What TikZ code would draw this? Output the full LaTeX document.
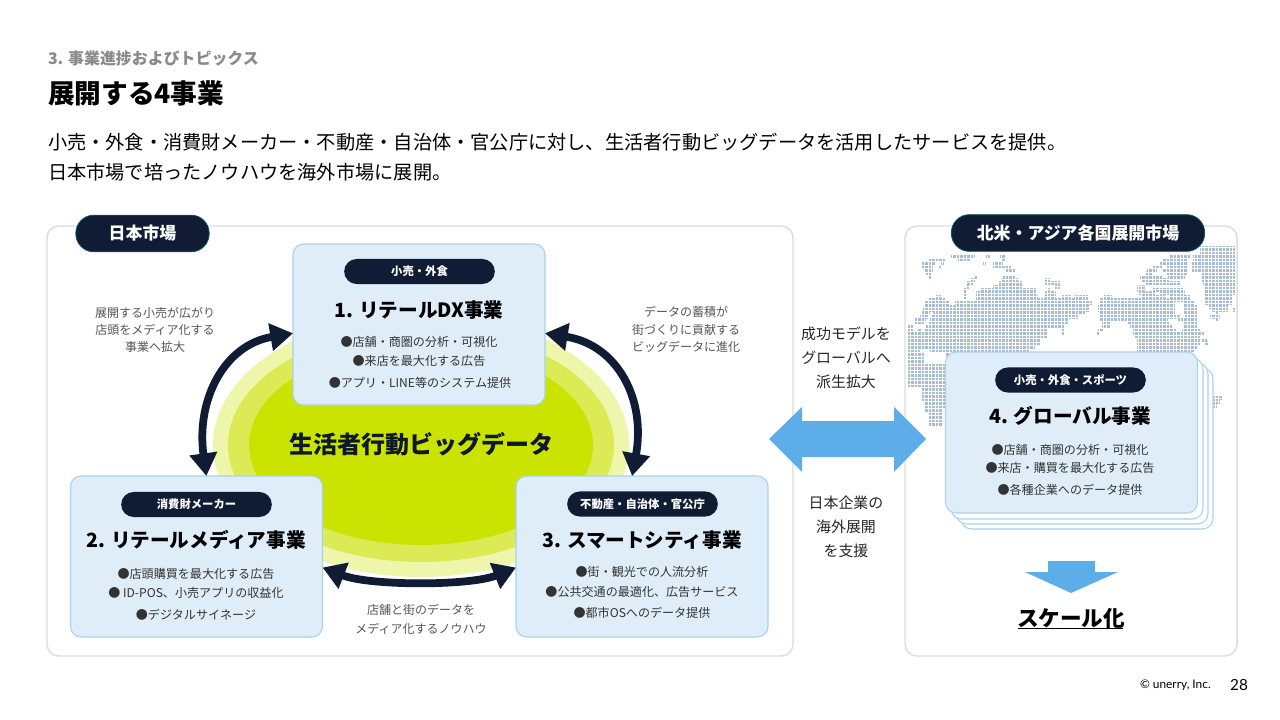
\documentclass[tikz,border=0pt]{standalone}
\usepackage{fontspec}
\setmainfont{Noto Sans CJK JP}
\newfontfamily\latinf{Lato}
\usetikzlibrary{arrows.meta}
\definecolor{navy}{HTML}{0F1C33}
\definecolor{cardfill}{HTML}{DEEDF8}
\definecolor{cardline}{HTML}{A9D2EC}
\definecolor{panelline}{HTML}{DDDDDD}
\definecolor{arrowblue}{HTML}{5DADE8}
\definecolor{mapdot}{HTML}{A6BCD1}
\definecolor{bodytx}{HTML}{333333}
\definecolor{sidetx}{HTML}{555555}
\definecolor{greytx}{HTML}{8A8A8A}
\definecolor{ringa}{HTML}{EEF6AC}
\definecolor{ringb}{HTML}{DCEB55}
\definecolor{ringc}{HTML}{CBE300}
\newcommand{\fs}[1]{\fontsize{#1}{#1}\selectfont}
\tikzset{
  every node/.style={inner sep=0pt,outer sep=0pt},
  panelbox/.style={draw=panelline,line width=1.1pt,fill=white,rounded corners=9pt},
  cardbox/.style={draw=cardline,line width=.8pt,fill=cardfill,rounded corners=8pt,minimum width=189pt,minimum height=120.75pt},
  backcard/.style={draw=cardline,line width=.8pt,fill=white,rounded corners=8pt,minimum width=189pt,minimum height=120.75pt},
  pill/.style={fill=navy,rounded corners=9.4pt,minimum width=113pt,minimum height=18.8pt,text=white,font=\fs{8.5}\bfseries},
  bigpill/.style={fill=navy,draw=navy!75!cyan,line width=.6pt,rounded corners=13.5pt,minimum height=27.5pt,text=white,font=\fs{12.7}\bfseries},
  cardtitle/.style={font=\fs{14.7}\bfseries,text=black},
  bullet/.style={font=\fs{9.05},text=bodytx},
  sidelabel/.style={font=\fs{9},text=sidetx,align=center},
  midlabel/.style={font=\fs{11.2},text=black!85,align=center},
  cyclearrow/.style={draw=navy,line width=5.8pt,{Triangle[length=17pt,width=20pt]}-{Triangle[length=17pt,width=20pt]}},
  maprow/.style={draw=mapdot,line width=2.9pt},
  mapgrid/.style={draw=white,line width=.32pt}
}
\begin{document}
\begin{tikzpicture}[x=.75pt,y=-.75pt]
\useasboundingbox (0,0) rectangle (1280,720);
\fill[white] (0,0) rectangle (1280,720);
% header
\node[anchor=west,font=\fs{11.95}\bfseries,text=greytx] (kick) at (48,59) {3. 事業進捗およびトピックス};
\node[anchor=west,font=\fs{20}\bfseries,text=black] (ttl) at (48,93) {展開する4事業};
\node[anchor=west,font=\fs{14.41},text=black] (la) at (48,142) {小売・外食・消費財メーカー・不動産・自治体・官公庁に対し、生活者行動ビッグデータを活用したサービスを提供。};
\node[anchor=west,font=\fs{14.41},text=black] (lb) at (48,172) {日本市場で培ったノウハウを海外市場に展開。};
% panels
\draw[panelbox] (47,226) rectangle (793,656);
\draw[panelbox] (905,226) rectangle (1237,656);
% ellipses
\fill[ringa] (421,445) ellipse [x radius=208,y radius=132];
\fill[ringb] (421,445) ellipse [x radius=193,y radius=117];
\fill[ringc] (421,445) ellipse [x radius=172,y radius=100];
% map
\foreach \y/\a/\b in {
248/1200/1235,252/1200/1235,
256/951/975,256/986/990,256/1000/1006,256/1170/1190,256/1193/1235,
260/928/945,260/958/970,260/1002/1005,260/1162/1188,260/1193/1235,
263/921/936,263/941/944,263/983/986,263/993/1003,263/1160/1187,263/1192/1235,
267/921/933,267/938/941,267/993/1011,267/1153/1163,267/1167/1187,267/1192/1235,
270/925/933,270/1006/1016,270/1147/1157,270/1163/1187,270/1192/1235,
273/926/932,273/1145/1153,273/1167/1187,273/1202/1235,
277/928/931,277/975/978,277/1003/1016,277/1140/1163,277/1168/1185,277/1202/1235,
280/970/975,280/1001/1018,280/1045/1050,280/1142/1170,280/1202/1235,
283/966/973,283/998/1023,283/1045/1060,283/1145/1180,283/1203/1235,
287/966/969,287/993/1023,287/1055/1060,287/1137/1145,287/1205/1235,
290/963/966,290/980/1036,290/1048/1051,290/1137/1145,290/1153/1183,290/1205/1235,
293/963/966,293/976/1036,293/1045/1056,293/1138/1156,293/1160/1185,293/1205/1235,
297/935/941,297/963/966,297/976/1038,297/1045/1056,297/1061/1071,297/1074/1088,297/1103/1112,297/1142/1165,297/1170/1190,297/1205/1232,
300/928/945,300/976/1088,300/1100/1190,300/1205/1232,
303/925/950,303/955/1092,303/1100/1175,303/1183/1195,303/1205/1232,
307/925/1090,307/1098/1175,307/1183/1197,307/1208/1228,
310/923/1090,310/1098/1175,310/1183/1197,310/1212/1228,310/1232/1235,
313/921/930,313/933/1085,313/1100/1175,313/1183/1197,313/1215/1218,
317/920/928,317/931/1078,317/1100/1180,317/1185/1197,317/1210/1220,
320/915/926,320/930/1068,320/1100/1168,320/1178/1197,320/1215/1218,
323/915/925,323/928/1068,323/1102/1110,323/1128/1170,323/1183/1197,
327/908/913,327/926/1065,327/1102/1110,327/1130/1172,327/1183/1197,
330/908/913,330/918/921,330/925/1048,330/1061/1065,330/1098/1103,330/1133/1177,330/1182/1200,
333/908/1048,333/1061/1065,333/1097/1100,333/1133/1205,
337/908/1048,337/1135/1200,
340/908/1040,340/1137/1200,340/1202/1207,
343/908/1040,343/1137/1200,343/1205/1208,
347/908/1035,347/1137/1197,
350/908/920,350/930/1030,350/1137/1195,
354/908/925,354/945/960,
357/908/924,361/908/924,
365/908/945,368/908/945,372/908/945,375/908/945,379/908/945,382/908/945,386/908/945,
390/922/945,393/922/945,397/922/945,400/922/945,404/925/945,407/925/945,
411/925/943,414/928/943,418/928/942,421/928/942,425/928/942,
398/1213/1223,402/1213/1220,406/1213/1217
}{\draw[maprow] (\a,\y) -- (\b,\y);}
\foreach \i in {0,...,93}{\draw[mapgrid] ({907+3.5*\i},244) -- ({907+3.5*\i},430);}
\foreach \i in {0,...,53}{\draw[mapgrid] (906.5,{244+3.5*\i}) -- (1235.5,{244+3.5*\i});}
% pills of panels
\node[bigpill,minimum width=100pt] (pjp) at (142.5,233.5) {日本市場};
\node[bigpill,minimum width=190pt] (pgl) at (1078,233) {北米・アジア各国展開市場};
% center
\node[font=\fs{18}\bfseries,text=navy!85!black] (ctr) at (421,444) {生活者行動ビッグデータ};
% cards
\node[cardbox] (c1) at (419,324.5) {};
\node[cardbox] (c2) at (196.5,556.5) {};
\node[cardbox] (c3) at (642,556.5) {};
\node[backcard] (c4c) at (1087,448.5) {};
\node[backcard] (c4b) at (1082,443.5) {};
\node[backcard] (c4a) at (1077,438.5) {};
\node[cardbox] (c4) at (1071.5,432.5) {};
% card 1
\node[pill] (p1) at (419.5,271.5) {小売・外食};
\node[cardtitle] (t1) at (419,310) {1. リテールDX事業};
\node[bullet] (b11) at (419,342) {●店舗・商圏の分析・可視化};
\node[bullet] (b12) at (419,361) {●来店を最大化する広告};
\node[bullet] (b13) at (420,383) {●アプリ・LINE等のシステム提供};
% card 2
\node[pill] (p2) at (196.5,504.5) {消費財メーカー};
\node[cardtitle] (t2) at (196,540) {2. リテールメディア事業};
\node[bullet] (b21) at (196,574) {●店頭購買を最大化する広告};
\node[bullet] (b22) at (196,593) {● ID-POS、小売アプリの収益化};
\node[bullet] (b23) at (196,615) {●デジタルサイネージ};
% card 3
\node[pill] (p3) at (642.5,504) {不動産・自治体・官公庁};
\node[cardtitle] (t3) at (642,540) {3. スマートシティ事業};
\node[bullet] (b31) at (642,572) {●街・観光での人流分析};
\node[bullet] (b32) at (642,592) {●公共交通の最適化、広告サービス};
\node[bullet] (b33) at (642,613) {●都市OSへのデータ提供};
% card 4
\node[pill] (p4) at (1070.5,380) {小売・外食・スポーツ};
\node[cardtitle] (t4) at (1070,416) {4. グローバル事業};
\node[bullet] (b41) at (1070,450) {●店舗・商圏の分析・可視化};
\node[bullet] (b42) at (1070,468) {●来店・購買を最大化する広告};
\node[bullet] (b43) at (1070,490) {●各種企業へのデータ提供};
% cycle arrows
\draw[cyclearrow] (c1.184) .. controls (224,345) and (196,400) .. (c2.83);
\draw[cyclearrow] (c1.-4) .. controls (618,345) and (646,400) .. (c3.97);
\draw[cyclearrow] (c2.-5) .. controls (370,586) and (470,586) .. (c3.185);
% side labels
\node[sidelabel] (s1) at (155,330) {展開する小売が広がり\\[4pt]店頭をメディア化する\\[4pt]事業へ拡大};
\node[sidelabel] (s2) at (686,329.5) {データの蓄積が\\[4pt]街づくりに貢献する\\[4pt]ビッグデータに進化};
\node[sidelabel] (s3) at (421,619.5) {店舗と街のデータを\\[5.2pt]メディア化するノウハウ};
\node[midlabel] (m1) at (846,358) {成功モデルを\\[6.8pt]グローバルへ\\[6.8pt]派生拡大};
\node[midlabel] (m2) at (846,527) {日本企業の\\[6.8pt]海外展開\\[6.8pt]を支援};
% blue arrows
\fill[arrowblue] (769,439) -- (802,407) -- (802,421) -- (894,421) -- (894,407) -- (926,439) -- (894,472) -- (894,457) -- (802,457) -- (802,472) -- cycle;
\fill[arrowblue] (1048,561) -- (1095,561) -- (1095,572) -- (1118,572) -- (1071,593) -- (1025,572) -- (1048,572) -- cycle;
% scale
\node[font=\fs{16.2}\bfseries,text=black] (sc) at (1071,618) {スケール化};
\draw[black,line width=1.2pt] (1018,628.5) -- (1123,628.5);
% footer
\node[anchor=west,font=\latinf\fs{8.9},text=black] (cr) at (1140,685) {© unerry, Inc.};
\node[anchor=east,font=\latinf\fs{11.5},text=black] (pg) at (1248,685) {28};
\end{tikzpicture}
\end{document}
